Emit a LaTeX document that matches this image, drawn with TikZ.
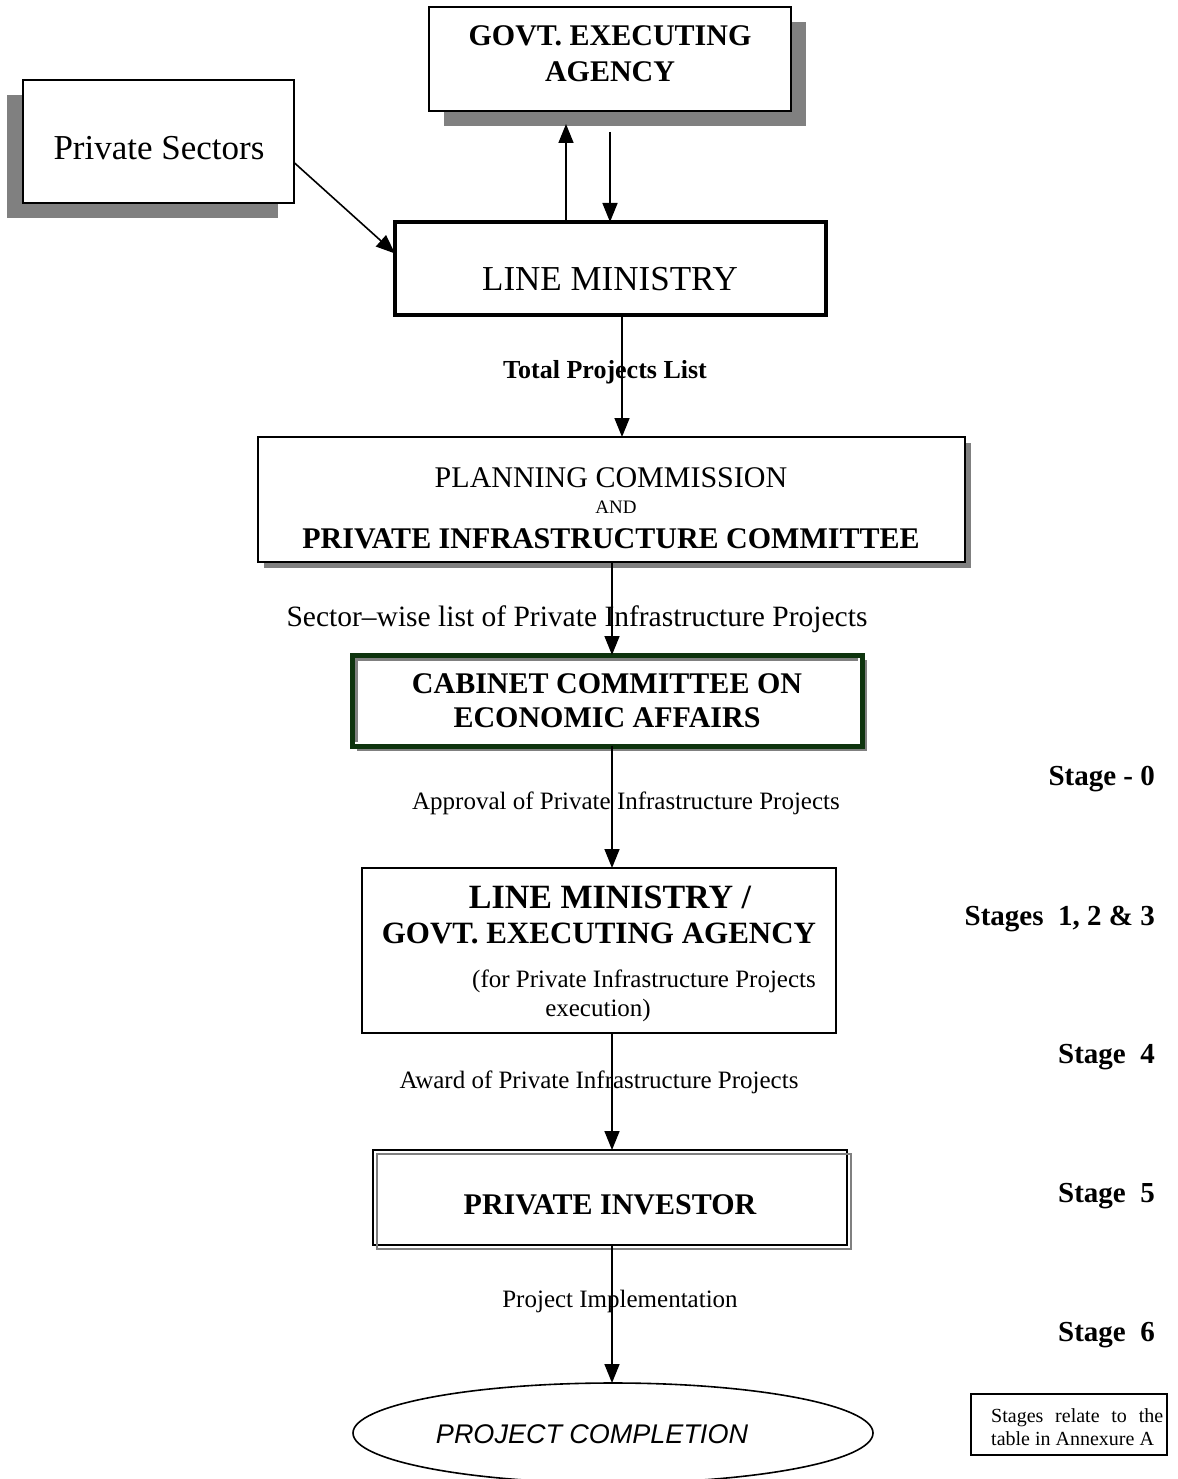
\documentclass[tikz,border=0pt]{standalone}
\usepackage{fontspec}
\setmainfont{Liberation Serif}
\newfontfamily\sansfam{Liberation Sans}
\usetikzlibrary{arrows.meta,shapes.geometric,shadows,calc}
\definecolor{shgray}{RGB}{128,128,128}
\definecolor{cabgreen}{RGB}{14,52,14}
\newcommand{\myfs}[1]{\fontsize{#1}{#1}\selectfont}
\tikzset{
  boxst/.style={draw=black, line width=1.6pt, fill=white, inner sep=0pt, outer sep=0pt},
  gshadow/.style 2 args={drop shadow={shadow xshift=#1, shadow yshift=#2, fill=shgray, opacity=1}},
  arr/.style={line width=1.6pt, -{Triangle[width=15pt,length=19pt]}},
  txt/.style={inner sep=0pt, anchor=center},
  stagest/.style={inner sep=0pt, anchor=east, font=\myfs{29}\bfseries},
}
\begin{document}
\begin{tikzpicture}[x=1pt,y=-1pt]
\useasboundingbox (0,0) rectangle (1177,1479);
\fill[white] (0,0) rectangle (1177,1479);

% ---------- boxes ----------
\node[boxst, minimum width=362pt, minimum height=104pt, gshadow={15pt}{-15pt}] (govt) at (610,59) {};
\node[boxst, minimum width=271pt, minimum height=123pt, gshadow={-16pt}{-15pt}] (ps) at (158.5,141.5) {};
\node[boxst, line width=4.5pt, minimum width=431pt, minimum height=93pt] (lm) at (610.5,268.5) {};
\node[boxst, minimum width=707pt, minimum height=125pt, gshadow={6pt}{-6pt}] (pc) at (611.5,499.5) {};
\node[boxst, draw=cabgreen, line width=5pt, minimum width=510pt, minimum height=91pt, gshadow={5pt}{-5pt}] (cab) at (607,700.5) {};
\draw[shgray, line width=3pt] ($(cab.south west)+(4,-4)$) |- ($(cab.north east)+(-4,4)$);
\node[boxst, minimum width=474pt, minimum height=165pt] (lmg) at (599,950.5) {};
\node[boxst, fill=none, minimum width=474pt, minimum height=95pt] (pi) at (610,1197.5) {};
\draw[shgray, line width=1.6pt] ($(pi.south west)+(4,4)$) rectangle ($(pi.north east)+(4,4)$);
\node[draw, line width=1.6pt, ellipse, inner sep=0pt, outer sep=0pt, minimum width=520pt, minimum height=100pt] (pcomp) at (613,1433) {};
\node[boxst, minimum width=196pt, minimum height=61pt] (note) at (1069,1424.5) {};

% ---------- texts ----------
\node[txt, font=\myfs{30}\bfseries] (govtA) at (610,36) {GOVT. EXECUTING};
\node[txt, font=\myfs{30}\bfseries] (govtB) at (610,72) {AGENCY};
\node[txt, font=\myfs{35}] (pstxt) at (159,148) {Private Sectors};
\node[txt, font=\myfs{35}] (lmtxt) at (610,279) {LINE MINISTRY};
\node[txt, font=\myfs{26}\bfseries] (tpl) at (605,372) {Total Projects List};
\node[txt, font=\myfs{30}] (pcA) at (611,478) {PLANNING COMMISSION};
\node[txt, font=\myfs{19}] (pcB) at (616,507) {AND};
\node[txt, font=\myfs{30}\bfseries] (pcC) at (611,539) {PRIVATE INFRASTRUCTURE COMMITTEE};
\node[txt, font=\myfs{29.5}] (swl) at (577,619) {Sector–wise list of Private Infrastructure Projects};
\node[txt, font=\myfs{30}\bfseries] (cabA) at (607,684) {CABINET COMMITTEE ON};
\node[txt, font=\myfs{30}\bfseries] (cabB) at (607,718) {ECONOMIC AFFAIRS};
\node[txt, font=\myfs{25}] (appr) at (626,803) {Approval of Private Infrastructure Projects};
\node[txt, font=\myfs{34}\bfseries] (lmgA) at (610,897) {LINE MINISTRY /};
\node[txt, font=\myfs{31}\bfseries] (lmgB) at (599,933) {GOVT. EXECUTING AGENCY};
\node[txt, font=\myfs{25}] (lmgC) at (644,981) {(for Private Infrastructure Projects};
\node[txt, font=\myfs{25}] (lmgD) at (598,1010) {execution)};
\node[txt, font=\myfs{25}] (award) at (599,1082) {Award of Private Infrastructure Projects};
\node[txt, font=\myfs{30}\bfseries] (pitxt) at (610,1205) {PRIVATE INVESTOR};
\node[txt, font=\myfs{25}] (pimpl) at (620,1301) {Project Implementation};
\node[txt, font=\sansfam\itshape\myfs{27}] (pctxt) at (592,1434) {PROJECT COMPLETION};
\node[anchor=base west, inner sep=0pt, font=\myfs{20}] (nt1) at (991,1422) {\makebox[172pt][s]{Stages relate to the}};
\node[anchor=base west, inner sep=0pt, font=\myfs{20}] (nt2) at (991,1445) {table in Annexure A};

\node[stagest] (s0) at (1155,779) {Stage - 0};
\node[stagest] (s1) at (1155,919) {Stages\ \ 1, 2 \& 3};
\node[stagest] (s4) at (1155,1057) {Stage\ \ 4};
\node[stagest] (s5) at (1155,1196) {Stage\ \ 5};
\node[stagest] (s6) at (1155,1335) {Stage\ \ 6};

% ---------- connectors ----------
\coordinate (xup) at (566,0);
\coordinate (xdn) at (610,0);
\coordinate (xtp) at (622,0);
\coordinate (xc) at (612,0);
\coordinate (govtlow) at ([yshift=-13pt]govt.south);
\coordinate (govtlow2) at ([yshift=-21pt]govt.south);
\coordinate (psout) at ([yshift=-21pt]ps.east);
\coordinate (lmin) at ([yshift=15pt]lm.west);

\draw[arr] (lm.north -| xup) -- (govtlow -| xup);
\draw[arr] (govtlow2 -| xdn) -- (lm.north -| xdn);
\draw[arr] (psout) -- (lmin);
\draw[arr] (lm.south -| xtp) -- (pc.north -| xtp);
\draw[arr] (pc.south -| xc) -- (cab.north -| xc);
\draw[arr] (cab.south -| xc) -- (lmg.north -| xc);
\draw[arr] (lmg.south -| xc) -- (pi.north -| xc);
\draw[arr] (pi.south -| xc) -- (pcomp.north -| xc);
\end{tikzpicture}
\end{document}
